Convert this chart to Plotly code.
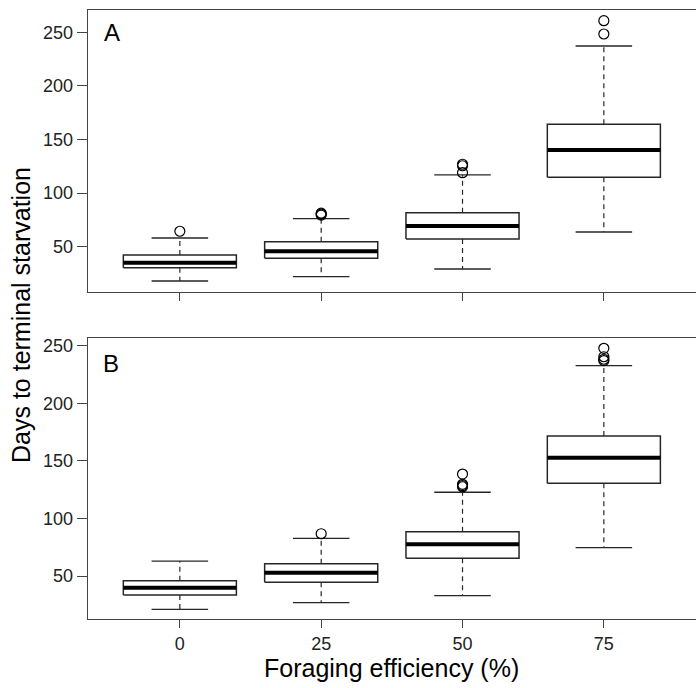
import plotly.graph_objects as go

# ---------------- data ----------------
efficiency = [0, 25, 50, 75]
tick_labels = ["0", "25", "50", "75"]
y_ticks = [50, 100, 150, 200, 250]

# Panel A
a_lower = [18.0, 22.0, 29.2, 63.7]
a_q1 = [30.4, 39.2, 57.2, 114.7]
a_median = [35.1, 45.7, 69.3, 140.2]
a_q3 = [42.3, 54.7, 81.7, 164.2]
a_upper = [58.1, 76.1, 116.9, 237.2]
a_out_x = [0, 25, 25, 25, 50, 50, 50, 75, 75]
a_out_y = [64.4, 79.5, 80.4, 81.3, 119.0, 125.5, 126.9, 248.4, 260.8]

# Panel B
b_lower = [21.1, 26.8, 32.9, 74.6]
b_q1 = [33.5, 44.5, 65.4, 130.5]
b_median = [39.8, 52.9, 77.5, 152.7]
b_q3 = [45.9, 60.7, 88.5, 171.5]
b_upper = [63.0, 82.7, 122.7, 232.6]
b_out_x = [25, 50, 50, 50, 50, 75, 75, 75, 75]
b_out_y = [86.7, 127.5, 128.5, 129.6, 138.5, 237.0, 238.2, 240.4, 247.7]

# ---------------- style ----------------
BOX_HALF = 10.0
CAP_HALF = 5.0
LINE_COL = "#262626"
AX_COL = "#444444"
FONT = "Liberation Sans, Arial, Helvetica, sans-serif"

fig = go.Figure()


def add_panel(xa, ya, lower, q1, med, q3, upper, ox, oy):
    bx, by, mx, my, wx, wy, cx, cy = [], [], [], [], [], [], [], []
    for c, lo, a, m, b, hi in zip(efficiency, lower, q1, med, q3, upper):
        bx += [c - BOX_HALF, c + BOX_HALF, c + BOX_HALF, c - BOX_HALF, c - BOX_HALF, None]
        by += [a, a, b, b, a, None]
        mx += [c - BOX_HALF, c + BOX_HALF, None]
        my += [m, m, None]
        wx += [c, c, None, c, c, None]
        wy += [b, hi, None, a, lo, None]
        cx += [c - CAP_HALF, c + CAP_HALF, None, c - CAP_HALF, c + CAP_HALF, None]
        cy += [hi, hi, None, lo, lo, None]
    common = dict(xaxis=xa, yaxis=ya, mode="lines", showlegend=False, hoverinfo="skip")
    fig.add_trace(go.Scatter(x=wx, y=wy, line=dict(color=LINE_COL, width=1.2, dash="5px,4px"), **common))
    fig.add_trace(go.Scatter(x=cx, y=cy, line=dict(color=LINE_COL, width=1.3), **common))
    fig.add_trace(go.Scatter(x=bx, y=by, line=dict(color=LINE_COL, width=1.5), **common))
    fig.add_trace(go.Scatter(x=mx, y=my, line=dict(color="black", width=4), **common))
    fig.add_trace(go.Scatter(x=ox, y=oy, xaxis=xa, yaxis=ya, mode="markers", showlegend=False,
                             marker=dict(symbol="circle-open", size=10, color="black",
                                         line=dict(width=1.2, color="black"))))


add_panel("x", "y", a_lower, a_q1, a_median, a_q3, a_upper, a_out_x, a_out_y)
add_panel("x2", "y2", b_lower, b_q1, b_median, b_q3, b_upper, b_out_x, b_out_y)

W, H = 696, 688
x_dom = [87.7 / W, 1.0]
xrange = [-16.3, 91.3]

xcommon = dict(range=xrange, showgrid=False, zeroline=False, showline=True, mirror=True,
               linecolor=AX_COL, linewidth=1.2, ticks="outside", ticklen=8, tickwidth=1.2,
               tickcolor=AX_COL, tickvals=efficiency, ticktext=tick_labels, automargin=False,
               tickfont=dict(family=FONT, size=18, color="#222"), domain=x_dom)
ycommon = dict(showgrid=False, zeroline=False, showline=True, mirror=False, automargin=False,
               linecolor=AX_COL, linewidth=1.2, ticks="outside", ticklen=10, tickwidth=1.2,
               tickcolor=AX_COL, tickvals=y_ticks,
               tickfont=dict(family=FONT, size=18, color="#222"))

fig.update_layout(
    width=W, height=H,
    margin=dict(l=0, r=0, t=0, b=0, autoexpand=False),
    paper_bgcolor="white", plot_bgcolor="white",
    xaxis=dict(xcommon, anchor="y", showticklabels=False),
    yaxis=dict(ycommon, anchor="x", range=[8.0, 270.8], domain=[1 - 291.7 / H, 1 - 10 / H]),
    xaxis2=dict(xcommon, anchor="y2", showticklabels=True),
    yaxis2=dict(ycommon, anchor="x2", range=[12.4, 256.4], domain=[1 - 619.3 / H, 1 - 338.3 / H]),
    annotations=[
        dict(text="A", x=111.7 / W, y=1 - 33 / H, xref="paper", yref="paper",
             xanchor="center", yanchor="middle", showarrow=False,
             font=dict(family=FONT, size=24, color="black")),
        dict(text="B", x=110.7 / W, y=1 - 363.3 / H, xref="paper", yref="paper",
             xanchor="center", yanchor="middle", showarrow=False,
             font=dict(family=FONT, size=24, color="black")),
        dict(text="Days to terminal starvation", x=21 / W, y=1 - 315 / H, xref="paper",
             yref="paper", xanchor="center", yanchor="middle", textangle=-90, showarrow=False,
             font=dict(family=FONT, size=25, color="black")),
        dict(text="Foraging efficiency (%)", x=391.8 / W, y=1 - 668 / H, xref="paper",
             yref="paper", xanchor="center", yanchor="middle", showarrow=False,
             font=dict(family=FONT, size=25, color="black")),
    ],
)

fig.write_html(
    "out.html",
    config={"displayModeBar": False},
    post_script="document.body.style.margin='0';document.body.style.padding='0';"
                "document.body.style.overflow='hidden';",
)
